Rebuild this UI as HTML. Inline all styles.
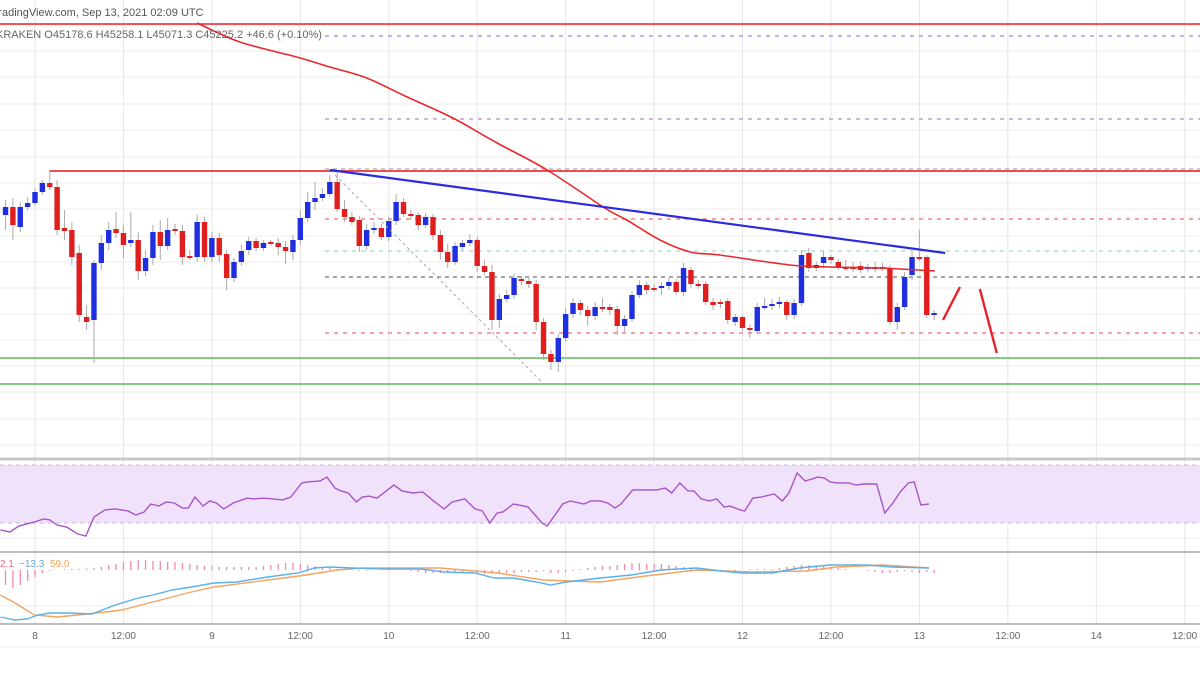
<!DOCTYPE html>
<html><head><meta charset="utf-8"><style>
html,body{margin:0;padding:0;background:#fff;width:1200px;height:675px;overflow:hidden}
svg{display:block;font-family:"Liberation Sans",sans-serif}
</style></head><body>
<svg id="c" width="1200" height="675" viewBox="0 0 1200 675">
<g id="grid"></g>
<g id="levels"></g>
<g id="candles"></g>
<g id="overlay"></g>
<g id="rsi"></g>
<g id="macd"></g>
<g id="axis"></g>
<text x="-8" y="16" font-size="11" fill="#555">TradingView.com, Sep 13, 2021 02:09 UTC</text>
<text x="-4" y="38" font-size="11" fill="#666">KRAKEN  O45178.6  H45258.1  L45071.3  C45225.2  +46.6 (+0.10%)</text>
<text x="0" y="567" font-size="10" fill="#e86a8e">2.1</text>
<text x="19" y="567" font-size="10" fill="#5aaee8">−13.3</text>
<text x="50" y="567" font-size="10" fill="#f4a460">59.0</text>
</svg>
<script>
const opens=[46350,46430,46230,46430,46470,46580,46670,46630,46220,46200,45970,45330,45300,45870,46070,46210,46170,46070,46100,45790,45920,46180,46040,46210,46190,45940,45930,46280,45930,46120,45960,45720,45880,46000,46090,46020,46080,46070,46030,45980,46100,46320,46480,46520,46560,46680,46410,46330,46300,46040,46200,46220,46130,46290,46480,46360,46350,46250,46330,46150,45980,45880,46030,46070,46100,45840,45780,45300,45510,45550,45710,45690,45660,45280,44960,44880,45120,45360,45470,45400,45340,45430,45430,45410,45240,45310,45550,45650,45620,45620,45640,45680,45580,45800,45660,45660,45480,45480,45490,45280,45330,45220,45190,45430,45440,45460,45480,45350,45470,45970,45820,45870,45930,45880,45830,45830,45840,45810,45830,45830,45820,45280,45430,45750,45930,45930,45350];
const closes=[46430,46250,46430,46470,46580,46670,46630,46200,46190,45930,45350,45280,45870,46070,46200,46170,46050,46100,45790,45920,46180,46040,46200,46190,45930,45930,46280,45930,46120,45950,45720,45880,45990,46090,46020,46070,46070,46030,45990,46100,46320,46480,46520,46560,46680,46410,46330,46280,46040,46200,46220,46130,46290,46480,46360,46350,46250,46330,46150,45980,45880,46040,46070,46100,45840,45780,45300,45510,45550,45720,45690,45660,45280,44960,44880,45120,45360,45470,45400,45340,45430,45420,45400,45240,45310,45550,45650,45600,45610,45640,45680,45580,45820,45660,45640,45480,45450,45460,45300,45330,45220,45200,45430,45440,45460,45480,45350,45470,45950,45820,45850,45930,45900,45830,45820,45820,45800,45830,45820,45820,45280,45430,45730,45930,45920,45350,45370];
const highs=[46500,46520,46480,46530,46620,46700,46800,46700,46400,46280,46050,45450,45900,46150,46280,46380,46250,46380,46180,46000,46250,46300,46320,46260,46250,46000,46350,46330,46180,46170,46000,45920,46050,46130,46120,46100,46100,46120,46090,46150,46400,46580,46680,46620,46750,46800,46500,46380,46340,46260,46280,46260,46330,46560,46520,46400,46380,46370,46360,46200,46060,46080,46100,46160,46130,45900,45850,45560,45600,45760,45740,45730,45700,45320,45000,45160,45420,45520,45500,45440,45480,45520,45460,45440,45350,45590,45700,45680,45660,45680,45720,45710,45870,45830,45700,45690,45520,45510,45520,45360,45350,45260,45470,45520,45510,45530,45500,45510,46000,46020,45880,45990,45950,45910,45900,45880,45880,45860,45880,45870,45850,45470,45780,45980,46200,45950,45400];
const lows=[46200,46100,46180,46400,46440,46550,46600,46150,46100,45850,45280,45200,44870,45800,46000,46120,45920,46030,45700,45740,45850,45900,46000,46150,45850,45900,45880,45880,45880,45880,45600,45680,45840,45950,45990,45990,46040,45950,45860,45900,46050,46280,46400,46490,46530,46380,46280,46250,45980,46000,46160,46100,46090,46250,46330,46300,46200,46220,46100,45900,45820,45850,46000,46040,45780,45750,45200,45220,45480,45510,45650,45620,45200,44900,44800,44780,45080,45320,45350,45240,45300,45380,45350,45150,45180,45280,45520,45560,45580,45550,45600,45550,45540,45620,45610,45450,45400,45420,45260,45240,45190,45120,45160,45400,45400,45420,45300,45310,45440,45780,45790,45820,45860,45800,45790,45780,45770,45780,45780,45790,45250,45200,45400,45700,45890,45320,45300];
const firstHour=-4;
const maHours=[22.0,27.8,35.5,40.0,45.0,50.5,56.7,62.7,69.5,77.3,80.3,84.8,88.9,92.9,102.4,107.9,114.7,122.1];
const maPrices=[48270,48080,47930,47830,47720,47530,47320,47070,46800,46420,46300,46100,45980,45950,45850,45830,45820,45790];
const rsiHours=[-4.7,-3.4,-2.2,-0.1,1.2,2.0,3.0,4.3,5.8,6.9,8.0,9.5,10.9,12.6,13.7,14.8,15.7,16.8,17.8,18.9,20.0,20.8,21.7,22.8,23.7,24.6,25.6,26.9,28.8,29.7,31.1,33.6,34.7,36.2,37.0,38.7,39.6,40.7,41.5,42.5,43.6,44.4,45.3,46.4,48.7,49.8,51.3,52.6,53.9,55.5,56.6,58.3,59.7,60.7,61.7,62.7,63.5,64.9,66.4,66.9,68.8,69.5,71.6,72.6,74.5,75.4,76.7,77.7,78.7,79.5,81.1,81.8,84.4,85.5,86.4,87.5,88.6,89.4,90.4,91.5,92.5,93.5,94.3,95.7,96.3,97.4,98.5,100.3,101.4,102.3,103.4,104.5,105.4,106.2,107.1,107.9,108.8,110.4,111.4,112.5,114.2,115.3,116.4,117.4,118.5,119.3,120.2,121.3];
const rsiVals=[25.2,23.8,27.9,30.7,32.8,32.1,28.6,27.2,22.4,21.0,34.1,39.0,39.7,38.3,35.5,37.6,43.1,41.7,44.5,43.8,40.3,40.3,47.9,41.7,45.2,43.8,39.7,43.8,47.2,46.6,47.2,45.9,47.9,57.6,58.3,59.0,61.7,54.1,52.1,50.7,44.5,47.9,48.6,47.2,56.2,52.1,50.7,51.4,45.9,39.7,44.5,46.6,39.7,38.3,30.0,36.9,37.6,43.1,41.7,41.0,30.0,27.9,43.1,45.2,43.1,45.2,45.2,43.8,40.3,43.1,52.8,52.8,52.8,54.1,50.7,57.6,52.1,52.1,46.6,45.2,46.6,41.0,41.7,39.0,38.3,47.2,47.9,50.0,45.2,50.7,64.5,59.0,60.3,61.7,61.0,58.3,57.6,57.6,56.2,56.9,56.9,36.9,43.8,51.4,57.6,58.3,42.4,43.1];
const macdHours=[-4.7,-2.7,-1.1,0.4,2.0,4.6,7.7,10.9,14.0,16.0,18.6,21.2,24.3,27.4,31.6,35.7,37.9,39.9,43.0,47.2,52.4,55.5,59.7,62.3,64.9,68.0,70.0,72.1,76.7,80.9,84.9,89.7,93.2,95.9,100.0,103.7,107.9,113.0,116.2,121.3];
const macdVals=[-94,-100,-98,-90,-86,-86,-88,-70,-56,-50,-40,-34,-26,-24,-14,-6,4,6,4,2,2,-4,-6,-16,-16,-24,-30,-24,-16,-10,0,4,-2,-6,-6,4,10,10,6,4];
const sigHours=[-4.7,-2.7,-0.1,3.0,7.2,11.8,16.0,21.2,24.3,31.6,36.8,41.0,44.6,55.0,62.8,68.9,76.7,81.8,89.7,97.4,104.7,108.8,115.1,121.3];
const sigVals=[-50,-66,-90,-94,-88,-80,-64,-44,-34,-20,-10,0,4,4,-6,-20,-24,-14,0,-4,-2,6,10,4];
const histVals=[-30,-36,-30,-22,-14,-6,-2,0,2,2,2,3,4,6,10,12,16,18,20,20,18,18,16,16,14,12,10,8,8,6,6,6,6,6,6,8,10,12,14,14,12,10,8,6,4,2,2,0,-2,-2,0,2,2,0,0,-2,-4,-6,-6,-6,-4,-4,-6,-6,-6,-8,-8,-6,-6,-6,-4,-4,-4,-2,-6,-6,-4,-2,2,4,6,8,8,10,12,14,14,12,12,12,10,8,6,4,2,0,-2,-2,-2,-2,0,2,2,2,2,4,6,8,10,10,10,8,6,4,2,0,0,-2,-4,-6,-6,-4,-2,-4,-6,-4,-6];
const levelPrices=[48260,48140,47310,46810,46790,46310,45990,45730,45170,44920,44660];
const xTickLabels=['8','12:00','9','12:00','10','12:00','11','12:00','12','12:00','13','12:00','14','12:00'];

const NS='http://www.w3.org/2000/svg';
const X=h=>35+h*7.37;
const Y=p=>(48500-p)/10;
const RY=v=>494-(v-50)*1.45;
const MY=v=>570-v/2;
function mk(parent,tag,attrs){const e=document.createElementNS(NS,tag);for(const k in attrs)e.setAttribute(k,attrs[k]);document.getElementById(parent).appendChild(e);return e;}
function smooth(pts){let d='M'+pts[0][0]+','+pts[0][1];for(let i=0;i<pts.length-1;i++){const p0=pts[i-1]||pts[i],p1=pts[i],p2=pts[i+1],p3=pts[i+2]||p2;
const c1=[p1[0]+(p2[0]-p0[0])/6,p1[1]+(p2[1]-p0[1])/6],c2=[p2[0]-(p3[0]-p1[0])/6,p2[1]-(p3[1]-p1[1])/6];
d+=' C'+c1[0]+','+c1[1]+' '+c2[0]+','+c2[1]+' '+p2[0]+','+p2[1];}return d;}

[25,51,77,104,130,157,183,209,236,262,288,314,340,366,392,419,445,481,509,538,606].forEach(y=>{const l=mk('grid','line',{x1:0,x2:1200,y1:y,y2:y,stroke:'#ececec','stroke-width':1});

});
xTickLabels.forEach((t,k)=>{const x=X(k*12);const l=mk('grid','line',{x1:x,x2:x,y1:0,y2:624,stroke:'#e6e6e6','stroke-width':1});


const tx=mk('axis','text',{x:x,y:639,'font-size':10,fill:'#666','text-anchor':'middle'});tx.textContent=t;

});
[[459,3,'#c8c8c8'],[552,2,'#bdbdbd'],[624,2,'#bdbdbd'],[647,1,'#eee']].forEach(s=>{const l=mk('axis','line',{x1:0,x2:1200,y1:s[0],y2:s[0],stroke:s[2],'stroke-width':s[1]});

});

const lvStyle=[[0,'#e8232a',1.6,''],[325,'#8a8ae8',1.2,'4 5'],[325,'#c880d8',1.2,'4 5'],[325,'#aaa',1.2,'4 4'],[50,'#ee4b50',2,''],[325,'#ee6a6a',1.2,'4 5'],[325,'#9fdcc8',1.2,'4 5'],[325,'#888',1.5,'4 4'],[325,'#ee6a7a',1.2,'4 5'],[0,'#5cb85c',1.5,''],[0,'#5cb85c',1.5,'']];
levelPrices.forEach((p,i)=>{const s=lvStyle[i];const l=mk('levels','line',{x1:s[0],x2:1200,y1:Y(p),y2:Y(p),stroke:s[1],'stroke-width':s[2],'stroke-dasharray':s[3]});

});

opens.forEach((o,i)=>{const c=closes[i];const x=X(firstHour+i);const up=c>=o;const col=up?'#1f2fe0':'#e01e1e';
const w=mk('candles','line',{x1:x,x2:x,y1:Y(highs[i]),y2:Y(lows[i]),stroke:'#aaa','stroke-width':1});


const t=Math.min(Y(o),Y(c));const h=Math.max(2,Math.abs(Y(o)-Y(c)));
const b=mk('candles','rect',{x:x-2.7,y:t,width:5.4,height:h,fill:col});

});

const ma=mk('overlay','path',{d:smooth(maHours.map((h,i)=>[X(h),Y(maPrices[i])])),fill:'none',stroke:'#e8282c','stroke-width':1.6});


const tl=mk('overlay','line',{x1:X(40.0),y1:Y(46800),x2:X(123.5),y2:Y(45970),stroke:'#2a2ae0','stroke-width':2.2});


const dg=mk('overlay','line',{x1:X(40.7),y1:Y(46750),x2:X(68.9),y2:Y(44670),stroke:'#aaa','stroke-width':1,'stroke-dasharray':'3 3'});


const p1=mk('overlay','line',{x1:X(123.2),y1:Y(45300),x2:X(125.5),y2:Y(45630),stroke:'#e8202a','stroke-width':2.4});


const p2=mk('overlay','line',{x1:X(128.2),y1:Y(45610),x2:X(130.5),y2:Y(44970),stroke:'#e8202a','stroke-width':2.4});



const band=mk('rsi','rect',{x:0,y:RY(70),width:1200,height:RY(30)-RY(70),fill:'#f1e2fb'});


[70,30].forEach(v=>{const l=mk('rsi','line',{x1:0,x2:1200,y1:RY(v),y2:RY(v),stroke:'#c9b8d6','stroke-dasharray':'4 4'});

});
const rl=mk('rsi','polyline',{points:rsiHours.map((h,i)=>X(h)+','+RY(rsiVals[i])).join(' '),fill:'none',stroke:'#a855c8','stroke-width':1.4});



histVals.forEach((v,i)=>{const x=X(firstHour+i);const b=mk('macd','line',{x1:x,x2:x,y1:MY(0),y2:MY(v),stroke:'#f08aa8','stroke-width':1.3});

});
const sl=mk('macd','polyline',{points:sigHours.map((h,i)=>X(h)+','+MY(sigVals[i])).join(' '),fill:'none',stroke:'#f4a460','stroke-width':1.4});


const ml=mk('macd','polyline',{points:macdHours.map((h,i)=>X(h)+','+MY(macdVals[i])).join(' '),fill:'none',stroke:'#5ab0ec','stroke-width':1.4});


</script>
</body></html>
